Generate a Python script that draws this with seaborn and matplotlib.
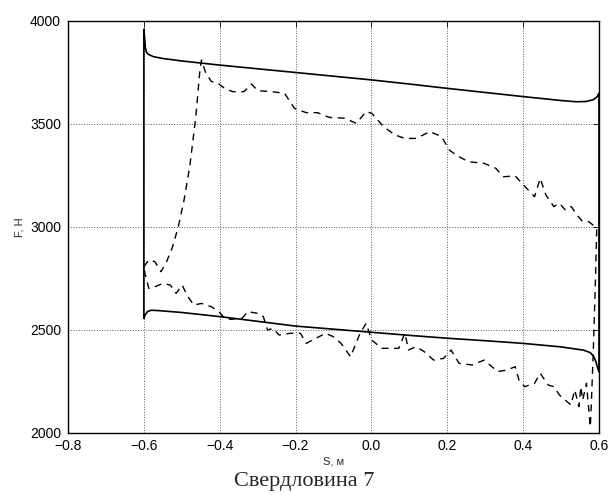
import matplotlib
matplotlib.use("Agg")
import matplotlib.pyplot as plt
import seaborn as sns
import numpy as np

# Theoretical dynamogram (solid), closed loop
s_theor = [-0.600, -0.600, -0.598, -0.596, -0.593, -0.588, -0.575, -0.550, -0.500, -0.400,
           -0.300, -0.200, -0.100, 0.000, 0.100, 0.200, 0.300, 0.400, 0.500, 0.540,
           0.565, 0.585, 0.595, 0.600, 0.600, 0.597, 0.592, 0.586, 0.577, 0.560,
           0.500, 0.400, 0.300, 0.200, 0.100, 0.000, -0.100, -0.200, -0.300, -0.400,
           -0.500, -0.560, -0.580, -0.590, -0.596, -0.600]
f_theor = [2557, 3960, 3920, 3870, 3848, 3838, 3827, 3818, 3806, 3786,
           3768, 3750, 3732, 3714, 3694, 3673, 3653, 3633, 3614, 3608,
           3609, 3618, 3632, 3650, 2296, 2312, 2345, 2372, 2390, 2402,
           2418, 2435, 2448, 2460, 2474, 2489, 2504, 2519, 2542, 2565,
           2585, 2594, 2596, 2590, 2575, 2557]

# Actual dynamogram (dashed), closed loop
s_fact = [-0.600, -0.587, -0.571, -0.555, -0.540, -0.524, -0.509, -0.494, -0.479, -0.463,
          -0.453, -0.448, -0.438, -0.422, -0.407, -0.387, -0.366, -0.336, -0.316, -0.300,
          -0.264, -0.229, -0.203, -0.172, -0.142, -0.111, -0.070, -0.040, -0.014, 0.001,
          0.032, 0.062, 0.088, 0.118, 0.154, 0.185, 0.205, 0.226, 0.256, 0.297,
          0.328, 0.348, 0.379, 0.409, 0.430, 0.445, 0.460, 0.481, 0.496, 0.511,
          0.527, 0.542, 0.557, 0.573, 0.590, 0.594, 0.590, 0.585, 0.580, 0.577,
          0.567, 0.557, 0.552, 0.547, 0.536, 0.526, 0.511, 0.496, 0.481, 0.466,
          0.445, 0.430, 0.404, 0.389, 0.379, 0.358, 0.333, 0.297, 0.266, 0.231,
          0.210, 0.190, 0.164, 0.139, 0.118, 0.098, 0.088, 0.072, 0.052, 0.027,
          0.001, -0.014, -0.030, -0.055, -0.080, -0.101, -0.121, -0.147, -0.172, -0.187,
          -0.213, -0.244, -0.259, -0.274, -0.285, -0.300, -0.326, -0.341, -0.371, -0.387,
          -0.402, -0.422, -0.448, -0.468, -0.484, -0.499, -0.515, -0.530, -0.550, -0.571,
          -0.587, -0.597, -0.600]
f_fact = [2807, 2840, 2832, 2783, 2832, 2905, 3003, 3131, 3293, 3536,
          3746, 3811, 3754, 3706, 3701, 3673, 3657, 3657, 3694, 3662,
          3657, 3649, 3576, 3555, 3555, 3532, 3528, 3503, 3560, 3552,
          3487, 3447, 3430, 3430, 3463, 3439, 3374, 3346, 3317, 3309,
          3285, 3244, 3248, 3188, 3147, 3236, 3155, 3099, 3115, 3083,
          3099, 3058, 3026, 3026, 3001, 2990, 2700, 2400, 2150, 2030,
          2241, 2160, 2225, 2128, 2209, 2136, 2160, 2184, 2225, 2233,
          2290, 2241, 2225, 2257, 2322, 2306, 2298, 2354, 2330, 2338,
          2403, 2362, 2354, 2395, 2419, 2403, 2484, 2411, 2411, 2411,
          2451, 2532, 2484, 2370, 2435, 2468, 2484, 2459, 2435, 2484,
          2484, 2476, 2508, 2500, 2565, 2581, 2589, 2557, 2552, 2557,
          2589, 2613, 2629, 2621, 2662, 2718, 2678, 2718, 2726, 2710,
          2702, 2775, 2807]

x_ticks = [-0.8, -0.6, -0.4, -0.2, 0.0, 0.2, 0.4, 0.6]
y_ticks = [2000, 2500, 3000, 3500, 4000]
x_label = "S, м"
y_label = "F, Н"
caption = "Свердловина 7"

sns.set_style("white")
plt.rcParams['font.family'] = ['Liberation Sans', 'DejaVu Sans']
plt.rcParams['axes.unicode_minus'] = True

fig = plt.figure(figsize=(6.08, 4.95), dpi=100)
ax = fig.add_axes([68/608, 1 - 433/495, (599 - 68)/608, (433 - 21)/495])

sns.lineplot(x=s_theor, y=f_theor, sort=False, estimator=None, ax=ax,
             color='black', linewidth=1.2)
sns.lineplot(x=s_fact, y=f_fact, sort=False, estimator=None, ax=ax,
             color='black', linewidth=1.0, linestyle=(0, (5, 4)))

ax.set_xlim(-0.8, 0.6)
ax.set_ylim(2000, 4000)
ax.set_xticks(x_ticks)
ax.set_yticks(y_ticks)
ax.set_xticklabels([f"{v:.1f}".replace('-', '\u2212') for v in x_ticks])
ax.set_yticklabels([str(v) for v in y_ticks])
ax.tick_params(direction='in', length=4, width=0.6, top=True, right=True,
               labelsize=10, colors='black')
ax.tick_params(axis='x', pad=4)
ax.tick_params(axis='y', pad=5)
ax.grid(True, linestyle=':', color='0.35', linewidth=0.7)
for sp in ax.spines.values():
    sp.set_color('black')
    sp.set_linewidth(1.0)
    sp.set_visible(True)

ax.set_xlabel(x_label, fontsize=8, labelpad=3)
ax.set_ylabel(y_label, fontsize=8, labelpad=4)

fig.text(0.5, 0.008, caption, ha='center', va='bottom', fontsize=16,
         family=['Liberation Serif', 'DejaVu Serif'])

fig.savefig("out.png", dpi=100)
